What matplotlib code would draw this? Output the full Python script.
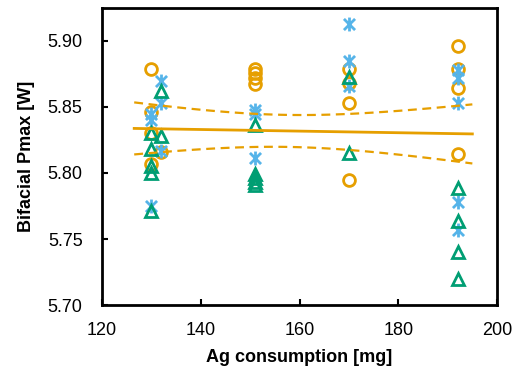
# Bifacial Pmax vs Ag consumption, three cell groups + pooled linear fit with 95% band
import numpy as np
import matplotlib.pyplot as plt
from matplotlib.path import Path

plt.rcParams['font.family'] = ['Liberation Sans', 'DejaVu Sans']

# data
orange_x = [130, 130, 130, 130, 132, 151, 151, 151, 151, 170, 170, 170, 170, 192, 192, 192, 192]
orange_y = [5.879, 5.846, 5.830, 5.807, 5.816, 5.879, 5.876, 5.872, 5.867,
            5.879, 5.868, 5.853, 5.795, 5.896, 5.879, 5.864, 5.814]

blue_x = [130, 130, 130, 132, 132, 132, 151, 151, 151, 170, 170, 170, 192, 192, 192, 192, 192]
blue_y = [5.845, 5.840, 5.775, 5.870, 5.853, 5.817, 5.848, 5.845, 5.811,
          5.913, 5.885, 5.866, 5.878, 5.872, 5.853, 5.778, 5.757]

green_x = [130, 130, 130, 130, 130, 132, 132, 151, 151, 151, 151, 151, 170, 170, 192, 192, 192, 192]
green_y = [5.830, 5.818, 5.805, 5.800, 5.771, 5.862, 5.828, 5.836, 5.799, 5.796, 5.793, 5.791,
           5.873, 5.815, 5.789, 5.764, 5.740, 5.720]

x_ticks = [120, 140, 160, 180, 200]
y_ticks = [5.70, 5.75, 5.80, 5.85, 5.90]

c_orange = '#E69F00'
c_blue = '#56B4E9'
c_green = '#009E73'

# asterisk marker like Excel's "star"
star = Path([(0, -1), (0, 1), (-0.8, -0.8), (0.8, 0.8), (-0.8, 0.8), (0.8, -0.8)],
            [Path.MOVETO, Path.LINETO, Path.MOVETO, Path.LINETO, Path.MOVETO, Path.LINETO])

fig = plt.figure(figsize=(5.21, 3.73), dpi=100)
ax = fig.add_axes([0.196, 0.182, 0.758, 0.797])

ax.plot(orange_x, orange_y, 'o', ms=8.5, mfc='none', mec=c_orange, mew=2)
ax.plot(blue_x, blue_y, ls='none', marker=star, ms=10, mec=c_blue, mew=2)
ax.plot(green_x, green_y, '^', ms=9, mfc='none', mec=c_green, mew=2)

# pooled linear fit and confidence band of the mean
xa = np.array(orange_x + blue_x + green_x, dtype=float)
ya = np.array(orange_y + blue_y + green_y)
n = len(xa)
slope, icpt = np.polyfit(xa, ya, 1)
resid = ya - (slope * xa + icpt)
s = np.sqrt(np.sum(resid ** 2) / (n - 2))
sxx = np.sum((xa - xa.mean()) ** 2)
xf = np.linspace(126.5, 195, 100)
yf = slope * xf + icpt
half = 2.01 * s * np.sqrt(1.0 / n + (xf - xa.mean()) ** 2 / sxx)
ax.plot(xf, yf, '-', color=c_orange, lw=2)
ax.plot(xf, yf + half, '--', color=c_orange, lw=1.6, dashes=(4, 2.5))
ax.plot(xf, yf - half, '--', color=c_orange, lw=1.6, dashes=(4, 2.5))

ax.set_xlim(120, 200)
ax.set_ylim(5.70, 5.925)
ax.set_xticks(x_ticks)
ax.set_yticks(y_ticks)
ax.set_yticklabels(['%.2f' % v for v in y_ticks])
ax.tick_params(direction='in', length=4, width=1.5, labelsize=13)
ax.tick_params(axis='x', pad=12)
ax.tick_params(axis='y', pad=14)
for sp in ax.spines.values():
    sp.set_linewidth(2)

ax.set_xlabel('Ag consumption [mg]', fontsize=13, fontweight='bold', labelpad=7)
ax.set_ylabel('Bifacial Pmax [W]', fontsize=13, fontweight='bold', labelpad=9)

fig.savefig('out.png', dpi=100)
